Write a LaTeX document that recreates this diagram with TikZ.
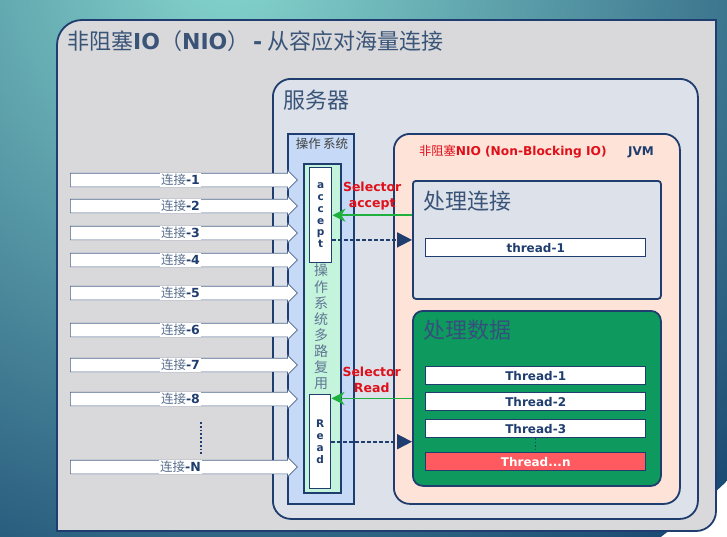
\documentclass[tikz,border=0pt]{standalone}
\usepackage{fontspec}
\setmainfont{DejaVu Sans}
\newfontfamily\cjk{Noto Sans CJK SC}
\usepackage{tikz}
\usetikzlibrary{
  shapes.arrows,
  arrows.meta,
  positioning,
  calc
}
\definecolor{NavyLine}{HTML}{1F3D6E}
\definecolor{SlateText}{HTML}{3A5478}
\definecolor{PanelGray}{HTML}{D9D9DB}
\definecolor{ServerFill}{HTML}{DCE1EA}
\definecolor{OsBlue}{HTML}{C6D9F6}
\definecolor{MuxMint}{HTML}{C4F4DC}
\definecolor{JvmPeach}{HTML}{FDE3D8}
\definecolor{DataGreen}{HTML}{0E9A5E}
\definecolor{HotRed}{HTML}{FF5A5F}
\definecolor{LabelRed}{HTML}{E0101A}
\definecolor{SelGreen}{HTML}{1FB040}
\definecolor{BgLight}{HTML}{86D6CE}
\definecolor{BgDark}{HTML}{1B4A72}
\newcommand{\connlbl}[1]{{\cjk\color{SlateText!85}连接}\textbf{\color{NavyLine}-#1}}
\tikzset{
  % Container box: fixed size, placed by its top-left corner
  frame/.style={
    rectangle, draw=NavyLine, line width=1.8pt, fill=#1,
    anchor=north west, inner sep=0pt
  },
  % Thread bar
  thr/.style={
    rectangle, draw=NavyLine, line width=1.4pt, fill=#1,
    minimum width=220pt, minimum height=18pt,
    anchor=north west, inner sep=0pt,
    font=\fontsize{12}{14}\selectfont\bfseries
  },
  % Incoming connection (block arrow)
  conn/.style={
    single arrow, draw=NavyLine!80, line width=0.7pt, fill=white,
    minimum height=227pt, inner xsep=0pt, inner ysep=6.5pt,
    single arrow head extend=3pt, anchor=west
  },
  % Box title
  ttl/.style={
    anchor=west, inner sep=0pt, text=SlateText,
    font=\cjk\fontsize{22}{26}\selectfont
  },
  % Selector arrow
  sel/.style={
    -{Stealth[length=13pt,width=13pt,inset=4pt]},
    line width=1.8pt, color=SelGreen
  },
  % Dashed hand-over arrow
  poll/.style={
    -{Triangle[length=15pt,width=15pt]},
    dash pattern=on 3.5pt off 2.5pt, line width=1.8pt, color=NavyLine
  },
  % Selector label
  lbl/.style={font=\fontsize{12.5}{16}\selectfont\bfseries, text=LabelRed, align=center}
}

\begin{document}
\begin{tikzpicture}[x=1pt, y=-1pt]
  \useasboundingbox (0,0) rectangle (727,536);
  \begin{scope}
    \clip (0,0) rectangle (727,536);
    \shade[inner color=BgLight, outer color=BgDark] (230,-40) circle (720);
  \end{scope}

  % outer panel
  \draw[line width=1.8pt, draw=NavyLine, fill=PanelGray]
    (57,531) -- (57,45) arc[start angle=180, end angle=270, radius=25]
    -- (716,20) -- (716,511) arc[start angle=0, end angle=90, radius=20] -- cycle;
  \node[ttl] (title) at (67,41)
    {非阻塞{\rmfamily\bfseries IO}（{\rmfamily\bfseries NIO}）\,{\rmfamily\bfseries -} 从容应对海量连接};

  % server
  \node[frame=ServerFill, rounded corners=18pt, minimum width=425pt, minimum height=440pt] (server) at (272,78) {};
  \node[ttl] (servert) at (283,100) {服务器};

  % operating system
  \node[frame=OsBlue, minimum width=66pt, minimum height=370pt] (os) at (287,133) {};
  \node[font=\cjk\fontsize{12.5}{14}\selectfont, text=black!75] (ost) at (322,144) {操作\,系统};
  \node[frame=MuxMint, minimum width=37pt, minimum height=329pt] (mux) at (303,163) {};
  \node[frame=white, line width=1.4pt, minimum width=22pt, minimum height=95pt, align=center,
        font=\fontsize{10.5}{11.8}\selectfont\bfseries, text=NavyLine] (acc) at (309,167) {a\\c\\c\\e\\p\\t};
  \node[frame=white, line width=1.4pt, minimum width=21pt, minimum height=94pt, align=center,
        font=\fontsize{10.5}{12}\selectfont\bfseries, text=NavyLine] (rd) at (309,394) {R\\e\\a\\d};
  \node[align=center, text=SlateText!80, font=\cjk\fontsize{14}{16.1}\selectfont] (muxt) at (321,327)
    {操\\作\\系\\统\\多\\路\\复\\用};

  % connections
  \foreach \n/\y in {1/180,2/206,3/233,4/260,5/293,6/330,7/365,8/399,N/467}
    \node[conn, label={[fill=white, inner sep=1.5pt, font=\fontsize{12.5}{14}\selectfont]center:\connlbl{\n}}] (c\n) at (70,\y) {};
  \draw[dotted, line width=1.8pt, NavyLine] ($(c8)+(20.5,23)$) -- ($(cN)+(20.5,-11)$);

  % JVM
  \node[frame=JvmPeach, rounded corners=16pt, minimum width=286pt, minimum height=370pt] (jvm) at (393,133) {};
  \node[anchor=west, inner sep=0pt, text=LabelRed, font=\fontsize{12.2}{14}\selectfont] (jvmt) at (419,152)
    {{\cjk 非阻塞}\textbf{NIO (Non-Blocking IO)}};
  \node[anchor=west, inner sep=0pt, text=NavyLine, font=\fontsize{12}{14}\selectfont\bfseries] (jvml) at (628,152) {JVM};

  % accept side
  \node[frame=ServerFill, rounded corners=3pt, minimum width=248pt, minimum height=118pt] (hconn) at (412,180) {};
  \node[ttl] (hconnt) at (423,201) {处理连接};
  \node[thr=white, text=NavyLine] (t0) at (425,238) {thread-1};

  % read side
  \node[frame=DataGreen, rounded corners=10pt, minimum width=248pt, minimum height=175pt] (hdata) at (412,310) {};
  \node[ttl, text=NavyLine!90] (hdatat) at (423,330) {处理数据};
  \node[thr=white, text=NavyLine] (t1) at (425,366) {Thread-1};
  \node[thr=white, text=NavyLine] (t2) at (425,392) {Thread-2};
  \node[thr=white, text=NavyLine] (t3) at (425,419) {Thread-3};
  \node[thr=HotRed, text=white]   (tn) at (425,452) {Thread...n};
  \draw[dotted, line width=1.4pt, NavyLine] (t3.south) -- (tn.north);

  % selector arrows
  \draw[sel]  (hconn.west |- acc.east) -- node[above=1pt, lbl]{Selector\\accept} (acc.east);
  \draw[poll] (acc.east |- hconn.west) -- (hconn.west);
  \draw[sel]  (hdata.west) -- node[above=1pt, lbl]{Selector\\Read} (hdata.west -| rd.east);
  \draw[poll] (rd.east) -- (rd.east -| hdata.west);
\end{tikzpicture}
\end{document}
